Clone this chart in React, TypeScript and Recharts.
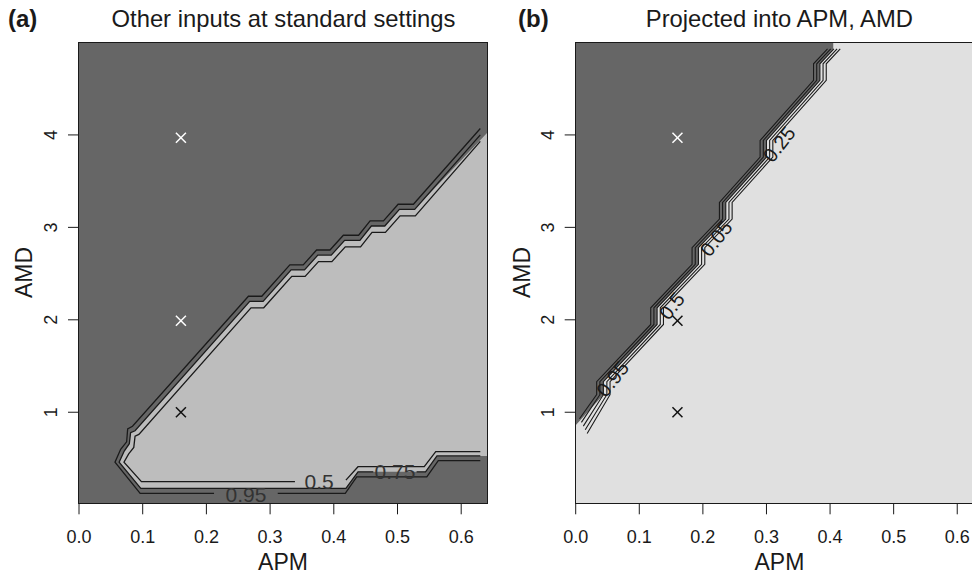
import React from 'react'
import { ComposedChart, XAxis, YAxis, Area, Scatter, CartesianGrid } from 'recharts'

type Pt = [number, number]

const FONT = '"Liberation Sans", Arial, Helvetica, sans-serif'
const INK = '#1a1a1a'
const DARK = '#666666'
const LIGHT_A = '#bdbdbd'
const LIGHT_B = '#e0e0e0'

const xTicks = [0, 0.1, 0.2, 0.3, 0.4, 0.5, 0.6]
const yTicks = [1, 2, 3, 4]
const xDomain: [number, number] = [0, 0.6405]
const yDomain: [number, number] = [0.015, 5]

// panel (a): contour lines, split where the labels sit
const a95Right: Pt[] = [[0.63, 0.476], [0.564, 0.476], [0.546, 0.3], [0.436, 0.3], [0.418, 0.123], [0.312, 0.123]]
const a95Left: Pt[] = [
  [0.212, 0.123], [0.096, 0.123], [0.0565, 0.46], [0.0654, 0.6], [0.0748, 0.68], [0.0764, 0.82], [0.084, 0.848],
  [0.266, 2.255], [0.287, 2.255], [0.331, 2.595], [0.352, 2.595], [0.373, 2.755], [0.394, 2.755],
  [0.415, 2.915], [0.439, 2.915], [0.457, 3.07], [0.478, 3.07], [0.501, 3.25], [0.525, 3.25], [0.63, 4.07],
]
const a75Right: Pt[] = [[0.63, 0.527], [0.562, 0.527], [0.544, 0.355], [0.53, 0.355]]
const a75Left: Pt[] = [
  [0.462, 0.355], [0.438, 0.355], [0.419, 0.177], [0.097, 0.177], [0.063, 0.46], [0.071, 0.58], [0.079, 0.66],
  [0.081, 0.78], [0.088, 0.8], [0.268, 2.2], [0.289, 2.2], [0.333, 2.54], [0.354, 2.54], [0.375, 2.7], [0.396, 2.7],
  [0.417, 2.86], [0.441, 2.86], [0.459, 3.015], [0.48, 3.015], [0.503, 3.195], [0.527, 3.195], [0.63, 4.0],
]
const a50Right: Pt[] = [[0.63, 0.573], [0.56, 0.573], [0.542, 0.411], [0.438, 0.411], [0.419, 0.265]]
const a50Left: Pt[] = [
  [0.339, 0.249], [0.098, 0.249], [0.0706, 0.46], [0.078, 0.55], [0.086, 0.62], [0.088, 0.74], [0.094, 0.76],
  [0.27, 2.13], [0.29, 2.13], [0.334, 2.47], [0.355, 2.47], [0.376, 2.63], [0.397, 2.63], [0.418, 2.79],
  [0.442, 2.79], [0.46, 2.945], [0.481, 2.945], [0.504, 3.125], [0.528, 3.125], [0.63, 3.93],
]
// edges of the light region in (a)
const aLightTop: Pt[] = [
  [0.063, 0.46], [0.071, 0.58], [0.079, 0.66], [0.081, 0.78], [0.088, 0.8], [0.268, 2.2], [0.289, 2.2],
  [0.333, 2.54], [0.354, 2.54], [0.375, 2.7], [0.396, 2.7], [0.417, 2.86], [0.441, 2.86], [0.459, 3.015],
  [0.48, 3.015], [0.503, 3.195], [0.527, 3.195], [0.6405, 4.02],
]
const aLightBottom: Pt[] = [[0.0565, 0.46], [0.063, 0.46], [0.097, 0.177], [0.419, 0.177], [0.438, 0.355], [0.544, 0.355], [0.562, 0.527], [0.6405, 0.527]]
const aLabelPos: Pt[] = [[0.262, 0.107], [0.377, 0.249], [0.496, 0.362]]
const aLabelText = ['0.95', '0.5', '0.75']

// panel (b): five staircase contours
const bStepY = [1.19, 1.33, 1.95, 2.13, 2.6, 2.78, 3.09, 3.27, 3.76, 3.94, 4.59, 4.77, 4.93]
const bStart: Pt[] = [[0.006, 0.93], [0.009, 0.89], [0.012, 0.85], [0.015, 0.81], [0.018, 0.77]]
const bX1 = [0.033, 0.033, 0.118, 0.118, 0.183, 0.183, 0.226, 0.226, 0.29, 0.29, 0.374, 0.374, 0.396]
const bX2 = [0.038, 0.038, 0.123, 0.123, 0.188, 0.188, 0.231, 0.231, 0.295, 0.295, 0.379, 0.379, 0.401]
const bX3 = [0.0435, 0.0435, 0.128, 0.128, 0.193, 0.193, 0.236, 0.236, 0.3, 0.3, 0.384, 0.384, 0.406]
const bX4 = [0.049, 0.049, 0.133, 0.133, 0.198, 0.198, 0.241, 0.241, 0.305, 0.305, 0.389, 0.389, 0.411]
const bX5 = [0.054, 0.054, 0.138, 0.138, 0.203, 0.203, 0.246, 0.246, 0.31, 0.31, 0.394, 0.394, 0.416]
const bDarkEdge: Pt[] = [
  [0, 0.86], [0.0435, 1.19], [0.0435, 1.33], [0.128, 1.95], [0.128, 2.13], [0.193, 2.6], [0.193, 2.78],
  [0.236, 3.09], [0.236, 3.27], [0.3, 3.76], [0.3, 3.94], [0.384, 4.59], [0.384, 4.77], [0.405, 4.93], [0.405, 5],
]
const bLabelPos: Pt[] = [[0.058, 1.36], [0.151, 2.15], [0.221, 2.88], [0.32, 3.9]]
const bLabelText = ['0.95', '0.5', '0.05', '0.25']

// design points
const aWhiteMarks: Pt[] = [[0.16, 3.97], [0.16, 1.99]]
const aBlackMarks: Pt[] = [[0.16, 1.0]]
const bWhiteMarks: Pt[] = [[0.16, 3.97]]
const bBlackMarks: Pt[] = [[0.16, 1.99], [0.16, 1.0]]

const rows = (pts: Pt[]) => pts.map(([x, y]) => ({ x, y }))
const zipLine = (start: Pt, xs: number[]) => [{ x: start[0], y: start[1] }, ...xs.map((x, i) => ({ x, y: bStepY[i] }))]
const labelRows = (pts: Pt[], txt: string[]) => pts.map(([x, y], i) => ({ x, y, text: txt[i] }))

const noDot = () => <g />

const cross = (color: string) => (p: any) => {
  const { cx, cy } = p
  return (
    <g stroke={color} strokeWidth={1.5}>
      <line x1={cx - 5} y1={cy - 5} x2={cx + 5} y2={cy + 5} />
      <line x1={cx - 5} y1={cy + 5} x2={cx + 5} y2={cy - 5} />
    </g>
  )
}

const textShape = (angle: number, size: number, color: string) => (p: any) => {
  const text = p.payload?.text ?? p.text
  return (
    <text x={p.cx} y={p.cy} transform={`rotate(${angle} ${p.cx} ${p.cy})`} textAnchor="middle" dominantBaseline="central" fontSize={size} fill={color} fontFamily={FONT}>
      {text}
    </text>
  )
}

const YTick = (p: any) => {
  const tx = p.x - 10.6
  return (
    <text x={tx} y={p.y} transform={`rotate(-90 ${tx} ${p.y})`} textAnchor="middle" fontSize={18} fill={INK} fontFamily={FONT}>
      {p.payload.value}
    </text>
  )
}

const contour = (data: { x: number; y: number }[], key: string, w = 1.3) => (
  <Scatter key={key} data={data} fill={INK} line={{ stroke: INK, strokeWidth: w }} lineType="joint" shape={noDot} isAnimationActive={false} />
)

const axes = (yWidth: number) => [
  <XAxis key="x" type="number" dataKey="x" domain={xDomain} ticks={xTicks} interval={0} allowDataOverflow
    tickFormatter={(v: number) => v.toFixed(1)} tickSize={11} tickMargin={16} height={73.7} axisLine={false}
    tickLine={{ stroke: INK }} tick={{ fontSize: 18, fill: INK, fontFamily: FONT }} />,
  <YAxis key="y" type="number" dataKey="y" domain={yDomain} ticks={yTicks} interval={0} allowDataOverflow
    width={yWidth} tickSize={11} tickMargin={0} axisLine={false} tickLine={{ stroke: INK }} tick={YTick} />,
]

const txt = (s: string, cx: number, top: number, size: number, extra: React.CSSProperties = {}) => (
  <div style={{ position: 'absolute', left: cx - 250, top, width: 500, textAlign: 'center', fontSize: size, lineHeight: `${size}px`, fontFamily: FONT, color: INK, whiteSpace: 'nowrap', ...extra }}>{s}</div>
)

const App: React.FC = () => {
  return (
    <div style={{ position: 'absolute', left: 0, top: 0, width: 972, height: 577, overflow: 'hidden', background: '#fff', fontFamily: FONT }}>
      <div style={{ position: 'absolute', left: 0, top: 0 }}>
        <ComposedChart width={490} height={577} margin={{ top: 42.5, right: 3, bottom: 0, left: 0 }}>
          <CartesianGrid fill={DARK} horizontal={false} vertical={false} />
          {axes(79)}
          <Area data={rows(aLightTop)} dataKey="y" type="linear" stroke="none" fill={LIGHT_A} fillOpacity={1} dot={false} activeDot={false} isAnimationActive={false} />
          <Area data={rows(aLightBottom)} dataKey="y" type="linear" stroke="none" fill={DARK} fillOpacity={1} dot={false} activeDot={false} isAnimationActive={false} />
          {contour(rows(a95Right), 'a95r')}
          {contour(rows(a95Left), 'a95l')}
          {contour(rows(a75Right), 'a75r')}
          {contour(rows(a75Left), 'a75l')}
          {contour(rows(a50Right), 'a50r')}
          {contour(rows(a50Left), 'a50l')}
          <Scatter data={labelRows(aLabelPos, aLabelText)} shape={textShape(0, 21, '#333')} isAnimationActive={false} />
          <Scatter data={rows(aWhiteMarks)} shape={cross('#ffffff')} isAnimationActive={false} />
          <Scatter data={rows(aBlackMarks)} shape={cross('#111111')} isAnimationActive={false} />
        </ComposedChart>
      </div>
      <div style={{ position: 'absolute', left: 490, top: 0 }}>
        <ComposedChart width={500} height={577} margin={{ top: 42.5, right: 7, bottom: 0, left: 0 }}>
          <CartesianGrid fill={LIGHT_B} horizontal={false} vertical={false} />
          {axes(85.7)}
          <Area data={rows(bDarkEdge)} dataKey="y" type="linear" baseValue="dataMax" stroke="none" fill={DARK} fillOpacity={1} dot={false} activeDot={false} isAnimationActive={false} />
          {contour(zipLine(bStart[0], bX1), 'b1', 1.1)}
          {contour(zipLine(bStart[1], bX2), 'b2', 1.1)}
          {contour(zipLine(bStart[2], bX3), 'b3', 1.1)}
          {contour(zipLine(bStart[3], bX4), 'b4', 1.1)}
          {contour(zipLine(bStart[4], bX5), 'b5', 1.1)}
          <Scatter data={labelRows(bLabelPos, bLabelText)} shape={textShape(-52, 20, INK)} isAnimationActive={false} />
          <Scatter data={rows(bWhiteMarks)} shape={cross('#ffffff')} isAnimationActive={false} />
          <Scatter data={rows(bBlackMarks)} shape={cross('#111111')} isAnimationActive={false} />
        </ComposedChart>
      </div>
      {/* plot frames */}
      <div style={{ position: 'absolute', left: 78.4, top: 41.9, width: 409.2, height: 462, border: `1.3px solid ${INK}`, boxSizing: 'border-box', pointerEvents: 'none' }} />
      <div style={{ position: 'absolute', left: 575.1, top: 41.9, width: 409.2, height: 462, border: `1.3px solid ${INK}`, boxSizing: 'border-box', pointerEvents: 'none' }} />
      {/* titles */}
      {txt('Other inputs at standard settings', 283.5, 7, 23.8)}
      {txt('Projected into APM, AMD', 779.4, 7, 23.8)}
      <div style={{ position: 'absolute', left: 8, top: 7, fontSize: 24, lineHeight: '24px', fontWeight: 'bold', fontFamily: FONT, color: INK }}>(a)</div>
      <div style={{ position: 'absolute', left: 518, top: 7, fontSize: 24, lineHeight: '24px', fontWeight: 'bold', fontFamily: FONT, color: INK }}>(b)</div>
      {/* axis titles */}
      {txt('APM', 283, 551, 23)}
      {txt('APM', 779.4, 551, 23)}
      {txt('AMD', 23.5, 261.4, 23, { transform: 'rotate(-90deg)' })}
      {txt('AMD', 521.7, 261.4, 23, { transform: 'rotate(-90deg)' })}
    </div>
  )
}

export default App
